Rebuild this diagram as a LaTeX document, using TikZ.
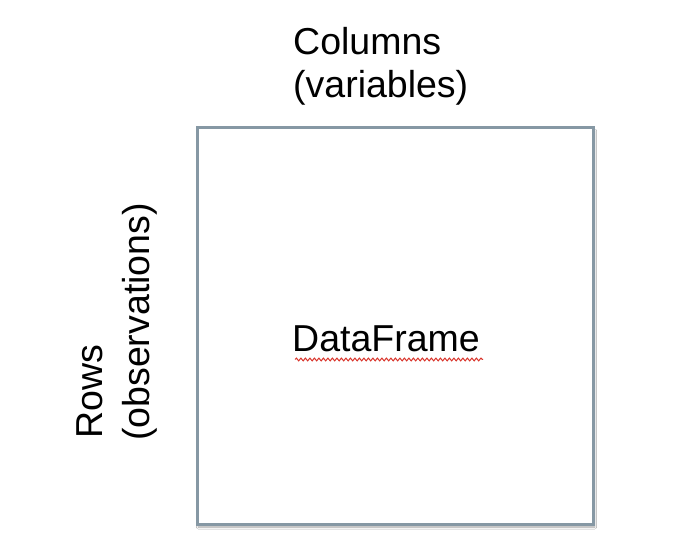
\documentclass[tikz,border=0pt]{standalone}
\usepackage{fontspec}
\setmainfont{Liberation Sans}
\usetikzlibrary{shadows.blur,decorations.pathmorphing}
\definecolor{boxline}{HTML}{8698A4}
\definecolor{squig}{HTML}{D9332A}
\tikzset{
  lbl/.style={inner sep=0pt, anchor=base west, font=\fontsize{37.5}{43}\selectfont, text=black},
  frame/.style={draw=boxline, line width=3pt, fill=white, minimum width=396pt, minimum height=396pt, inner sep=0pt,
    blur shadow={shadow xshift=1.5pt, shadow yshift=-3pt, shadow blur steps=6, shadow opacity=35}},
  squiggle/.style={draw=squig, line width=1pt, decorate, decoration={snake, amplitude=1.4pt, segment length=4.5pt}}
}
\begin{document}
\begin{tikzpicture}[x=1pt,y=1pt]
\useasboundingbox (0,0) rectangle (692,556);
\fill[white] (0,0) rectangle (692,556);
\node[frame] (df) at (395,326) [yshift=-96pt] {};
\node[lbl] (col1) at (293,501) {Columns};
\node[lbl] (col2) at (293,458) {(variables)};
\node[lbl] (dfl) at (292,204) {DataFrame};
\coordinate (sqa) at (295,196.5);
\coordinate (sqb) at (483,196.5);
\path[squiggle] (sqa) -- (sqb);
\node[lbl, rotate=90] (row1) at (102,117) {Rows};
\node[lbl, rotate=90] (row2) at (149,115) {(observations)};
\end{tikzpicture}
\end{document}
